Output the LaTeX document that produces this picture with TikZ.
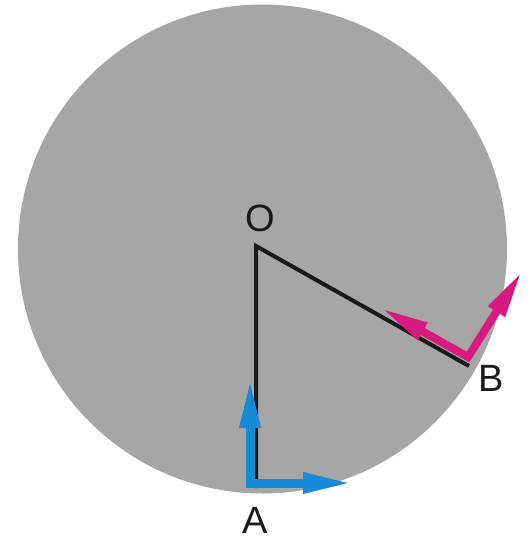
\documentclass[tikz,border=0pt]{standalone}
\usepackage{fontspec}
\setmainfont{Liberation Sans}
\usetikzlibrary{arrows.meta}
\definecolor{discgray}{RGB}{166,166,166}
\definecolor{velblue}{RGB}{22,138,214}
\definecolor{velpink}{RGB}{216,26,128}
\begin{document}
\begin{tikzpicture}[
    x=1pt, y=-1pt,
    % Estilos del disco y del radio
    discbox/.style={fill=discgray, draw=none},
    radline/.style={line width=4pt, draw=black!90, line join=miter},
    % Estilos de las flechas (velocidades)
    bluearrow/.style={line width=9pt, draw=velblue, line join=miter,
        {Triangle[width=19pt,length=50pt]}-{Triangle[width=19pt,length=50pt]}},
    pinkarrow/.style={line width=8pt, draw=velpink, line join=miter,
        {Triangle[width=18pt,length=48pt]}-{Triangle[width=18pt,length=48pt]}},
    % Estilo para las letras
    pointlabel/.style={font=\fontsize{38}{40}\selectfont, text=black!90, inner sep=0pt}
]
\useasboundingbox (0, 0) rectangle (530, 541);

% --- DISCO ---
\fill[discbox] (262.5, 249) circle (244.5);

% --- RADIOS ---
\coordinate (O) at (256, 246);
\coordinate (A) at (256, 488);
\coordinate (B) at (469, 366);
\draw[radline] (A) -- (O) -- (B);

% --- FLECHAS EN A ---
\coordinate (acorner) at (250, 483);
\coordinate (aup) at (250, 378);
\coordinate (aright) at (353, 483);
\draw[bluearrow] (aup) -- (acorner) -- (aright);

% --- FLECHAS EN B ---
\coordinate (bcorner) at (468, 357);
\coordinate (binner) at (381, 308);
\coordinate (bouter) at (522, 271);
\draw[pinkarrow] (binner) -- (bcorner) -- (bouter);

% --- LETRAS ---
\node[pointlabel] (labelO) at (260, 218.5) {O};
\node[pointlabel] (labelA) at (255, 520) {A};
\node[pointlabel] (labelB) at (491, 378) {B};

\end{tikzpicture}
\end{document}
